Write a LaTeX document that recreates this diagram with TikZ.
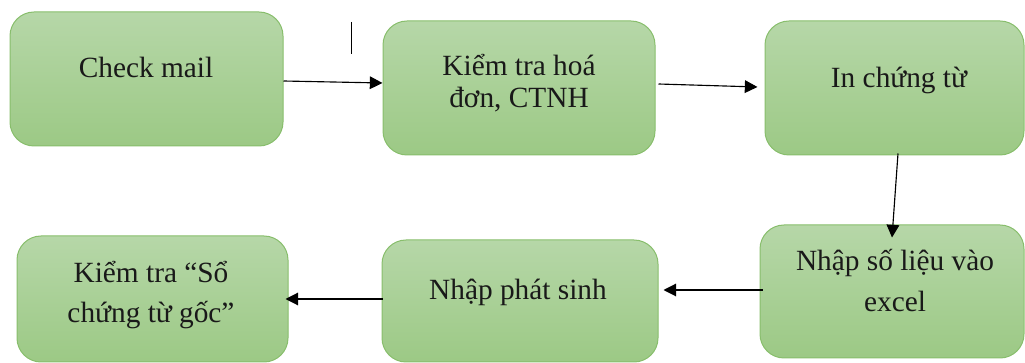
\documentclass[tikz,border=0pt]{standalone}
\usepackage{fontspec}
\setmainfont{Liberation Serif}
\newfontfamily\boxfont{Liberation Serif}
\usetikzlibrary{arrows.meta}
\definecolor{boxtop}{HTML}{B6D7A8}
\definecolor{boxbot}{HTML}{9CC985}
\definecolor{boxline}{HTML}{88BE6C}
\tikzset{
  stepbox/.style={draw=boxline, line width=0.75pt, rounded corners=18pt,
    top color=boxtop, bottom color=boxbot, inner sep=0pt},
  steptext/.style={anchor=base, align=center, text=black!90,
    font=\boxfont\fontsize{22}{30}\selectfont},
  flow/.style={-{Triangle[length=9.5pt,width=9.5pt]}, line width=0.85pt},
}
\begin{document}
\begin{tikzpicture}[x=0.75pt,y=-0.75pt]
  \useasboundingbox (0,0) rectangle (1025,363);
  % boxes
  \node[stepbox, minimum width=204.75pt, minimum height=100.5pt] (b1) at (146.5,79) {};
  \node[stepbox, minimum width=204pt, minimum height=100.5pt] (b2) at (519,88) {};
  \node[stepbox, minimum width=194.25pt, minimum height=100.5pt] (b3) at (894.5,88) {};
  \node[stepbox, minimum width=198pt, minimum height=99.75pt] (b4) at (892,291.5) {};
  \node[stepbox, minimum width=207pt, minimum height=91.5pt] (b5) at (520,301) {};
  \node[stepbox, minimum width=203.25pt, minimum height=94.5pt] (b6) at (152.5,299) {};
  % texts (base = last line)
  \node[steptext] (t1) at (146,78) {Check mail};
  \node[steptext, font=\boxfont\fontsize{22}{24}\selectfont] (t2) at (519,108) {Kiểm tra hoá\\đơn, CTNH};
  \node[steptext] (t3) at (899,88) {In chứng từ};
  \node[steptext, font=\boxfont\fontsize{22}{31.5}\selectfont] (t4) at (895,312) {Nhập số liệu vào\\excel};
  \node[steptext] (t5) at (518,300) {Nhập phát sinh};
  \node[steptext] (t6) at (151,323) {Kiểm tra “Sổ\\chứng từ gốc”};
  % stray mark
  \coordinate (m1) at (351.5,22);
  \coordinate (m2) at (351.5,54);
  \draw[line width=0.75pt] (m1) -- (m2);
  % arrows
  \begin{scope}[flow]
    \draw ([shift={(0,2)}]b1.east) -- ([shift={(0,-5)}]b2.west);
    \draw ([shift={(3,-4)}]b2.east) -- ([shift={(-7,-1)}]b3.west);
    \draw ([shift={(3.5,-2)}]b3.south) -- ([shift={(0,13)}]b4.north);
    \draw ([shift={(3,-1.5)}]b4.west) -- ([shift={(5,-11)}]b5.east);
    \draw ([shift={(1,-2)}]b5.west) -- ([shift={(-3,0)}]b6.east);
  \end{scope}
\end{tikzpicture}
\end{document}
